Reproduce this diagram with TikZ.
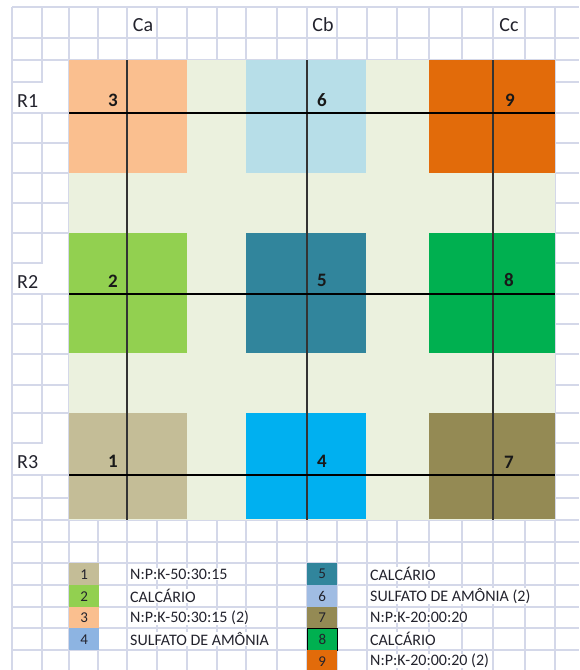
\documentclass[tikz,border=0pt]{standalone}
\usepackage{fontspec}
\setmainfont{Carlito}
\definecolor{gridc}{RGB}{212,216,233}
\definecolor{bgc}{RGB}{235,241,222}
\definecolor{cone}{RGB}{196,189,151}
\definecolor{ctwo}{RGB}{146,208,80}
\definecolor{cthree}{RGB}{250,191,143}
\definecolor{cfour}{RGB}{0,176,240}
\definecolor{cfive}{RGB}{49,133,156}
\definecolor{csix}{RGB}{183,222,232}
\definecolor{cseven}{RGB}{148,138,84}
\definecolor{ceight}{RGB}{0,176,80}
\definecolor{cnine}{RGB}{226,107,10}
\definecolor{lfour}{RGB}{141,180,226}
\definecolor{lsix}{RGB}{160,188,227}
\definecolor{txtc}{RGB}{35,35,45}
\begin{document}
\begin{tikzpicture}[x=1pt,y=-1pt,
  gridline/.style={draw=gridc,line width=1.3pt},
  hline/.style={draw=black,line width=2pt},
  vline/.style={draw=black!80,line width=1.5pt},
  header/.style={font=\fontsize{20}{22}\selectfont,text=txtc,inner sep=0pt},
  plotnum/.style={font=\fontsize{19}{21}\selectfont\bfseries,text=black!90,inner sep=0pt},
  legnum/.style={font=\fontsize{15}{17}\selectfont,text=txtc,inner sep=0pt},
  legtxt/.style={font=\fontsize{16}{18}\selectfont,text=txtc,fill=white,inner xsep=2pt,inner ysep=0.5pt,anchor=west},
  legcell/.style={minimum width=30pt,minimum height=22pt,inner sep=0pt,anchor=north west}]
\useasboundingbox (0,0) rectangle (579,670);
\fill[white] (0,0) rectangle (579,670);
% spreadsheet grid
\foreach \x in {12,42,69,98,127,157,187,217,246,277,307,337,367,397,429,462,493,525,555}
  \draw[gridline] (\x,7) -- (\x,670);
\foreach \y in {7,38,60,82,113,143,173,203,233,263,294,324,354,385,413,443,475,498,520,542,563,585,607,628,650}
  \draw[gridline] (12,\y) -- (579,\y);
% merged label cells (R1, R2, R3)
\foreach \b/\c in {82/113,263/294,443/475}{
  \fill[white] (42.7,\b-1) rectangle (68.3,\b+1);
  \fill[white] (41,\b+0.7) rectangle (43,\c-0.7);
}
% experimental area
\fill[bgc] (69,60) rectangle (555,520);
% plots
\fill[cthree] (69,60) rectangle (187,173);
\fill[csix] (246,60) rectangle (366,173);
\fill[cnine] (429,60) rectangle (555,173);
\fill[ctwo] (69,233) rectangle (187,353);
\fill[cfive] (246,233) rectangle (366,353);
\fill[ceight] (429,233) rectangle (555,353);
\fill[cone] (69,413) rectangle (187,519);
\fill[cfour] (246,413) rectangle (366,519);
\fill[cseven] (429,413) rectangle (555,519);
% axes lines
\foreach \x in {127,307,493} \draw[vline] (\x,60) -- (\x,520);
\foreach \y in {113,294,475} \draw[hline] (69,\y) -- (555,\y);
% headers
\node[header] (ca) at (143,25) {Ca};
\node[header] (cb) at (323,25) {Cb};
\node[header] (cc) at (509,25) {Cc};
\node[header,anchor=west] (r1) at (17,101) {R1};
\node[header,anchor=west] (r2) at (17,282) {R2};
\node[header,anchor=west] (r3) at (17,462) {R3};
% plot numbers
\node[plotnum] (p3) at (113,100) {3};
\node[plotnum] (p6) at (322,100) {6};
\node[plotnum] (p9) at (510,100) {9};
\node[plotnum] (p2) at (113,281) {2};
\node[plotnum] (p5) at (322,280) {5};
\node[plotnum] (p8) at (509,280) {8};
\node[plotnum] (p1) at (113,461) {1};
\node[plotnum] (p4) at (322,461) {4};
\node[plotnum] (p7) at (509,462) {7};
% legend left
\node[legcell,fill=cone] (l1) at (69,563) {};
\node[legcell,fill=ctwo] (l2) at (69,585) {};
\node[legcell,fill=cthree,minimum height=21pt] (l3) at (69,607) {};
\node[legcell,fill=lfour] (l4) at (69,628) {};
\node[legnum] (n1) at (l1) {1};
\node[legnum] (n2) at (l2) {2};
\node[legnum] (n3) at (l3) {3};
\node[legnum] (n4) at (l4) {4};
\node[legtxt] (t1) at (128,574) {N:P:K-50:30:15};
\node[legtxt] (t2) at (128,596) {CALCÁRIO};
\node[legtxt] (t3) at (128,617.5) {N:P:K-50:30:15 (2)};
\node[legtxt] (t4) at (128,639) {SULFATO DE AMÔNIA};
% legend right
\node[legcell,fill=cfive] (l5) at (307,563) {};
\node[legcell,fill=lsix] (l6) at (307,585) {};
\node[legcell,fill=cseven,minimum height=21pt] (l7) at (307,607) {};
\node[legcell,fill=ceight,draw=black,line width=1pt] (l8) at (307,628) {};
\node[legcell,fill=cnine] (l9) at (307,650) {};
\node[legnum] (n5) at (l5) {5};
\node[legnum] (n6) at (l6) {6};
\node[legnum] (n7) at (l7) {7};
\node[legnum] (n8) at (l8) {8};
\node[legnum] (n9) at (l9) {9};
\node[legtxt] (t5) at (368,574) {CALCÁRIO};
\node[legtxt] (t6) at (368,596) {SULFATO DE AMÔNIA (2)};
\node[legtxt] (t7) at (368,617.5) {N:P:K-20:00:20};
\node[legtxt] (t8) at (368,639) {CALCÁRIO};
\node[legtxt] (t9) at (368,661) {N:P:K-20:00:20 (2)};
\end{tikzpicture}
\end{document}
